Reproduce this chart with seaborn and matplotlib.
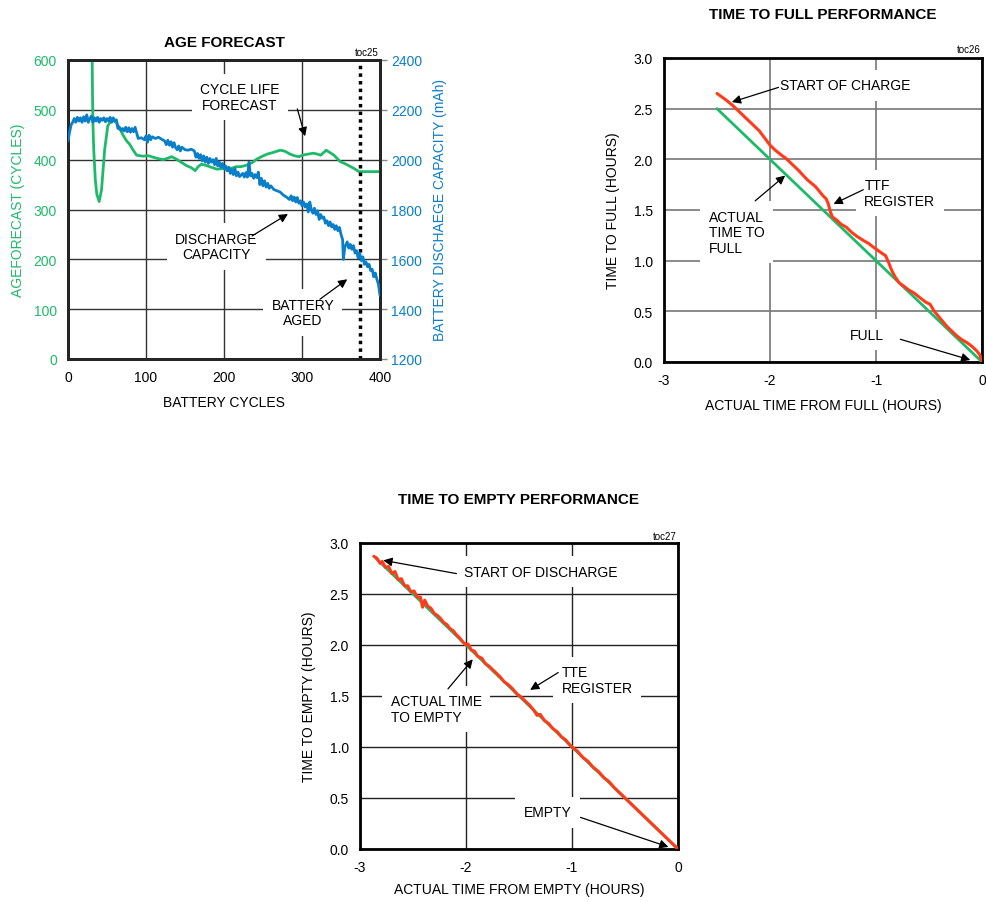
import matplotlib
matplotlib.use("Agg")
import matplotlib.pyplot as plt
import seaborn as sns

# ─── DATA ─────────────────────────────
# age forecast (green, left axis) vs battery cycles
age_cycles = [31, 31.5, 32, 33, 35, 37, 40, 43, 47, 51, 56, 62, 67, 71, 75, 79, 84, 88, 96, 103, 109,
              116, 122, 128, 133, 139, 144, 152, 158, 163, 167, 171, 178, 185, 191, 198, 204, 210,
              216, 222, 229, 236, 242, 248, 255, 262, 272, 278, 285, 290, 296, 301, 307, 315, 320,
              324, 331, 336, 341, 349, 355, 360, 367, 373, 380, 390, 400]
age_forecast = [600, 520, 470, 420, 360, 330, 316, 340, 420, 468, 480, 475, 460, 448, 438, 431, 418, 409,
                407, 408, 405, 402, 400, 403, 406, 401, 396, 388, 384, 378, 386, 391, 388, 384, 381,
                382, 381, 383, 386, 386, 389, 394, 401, 406, 411, 414, 419, 417, 411, 408, 406, 409,
                411, 413, 411, 409, 419, 414, 409, 396, 392, 388, 382, 376, 376, 376, 376]

# discharge capacity (blue, right axis)
cap_cycles = [0, 2, 4, 6, 8, 10, 12, 14, 16, 18, 20, 22, 24, 26, 28, 30, 32, 34, 36, 38, 40, 42, 44,
              46, 48, 50, 52, 54, 56, 58, 60, 62, 64, 66, 68, 70, 72, 74, 76, 78, 80, 82, 84, 86, 88,
              90, 94, 98, 100, 102, 104, 106, 108, 112, 116, 120, 124, 126, 128, 130, 132, 134, 136,
              138, 140, 142, 144, 146, 150, 154, 158, 162, 164, 166, 168, 170, 172, 174, 176, 178,
              180, 182, 184, 186, 188, 190, 192, 194, 196, 198, 200, 202, 204, 206, 208, 210, 212,
              214, 216, 218, 220, 224, 226, 228, 230, 232, 234, 236, 238, 240, 242, 244, 246, 248,
              250, 252, 254, 256, 258, 260, 264, 268, 272, 276, 280, 284, 286, 288, 290, 292, 294,
              296, 298, 300, 302, 304, 306, 308, 310, 312, 314, 316, 318, 320, 322, 324, 326, 328,
              330, 332, 334, 336, 338, 340, 342, 344, 346, 348, 350, 352, 353, 355, 358, 360, 362,
              364, 366, 368, 370, 372, 374, 376, 378, 380, 382, 384, 386, 388, 390, 392, 394, 396,
              398, 400]
capacity = [2075, 2110, 2140, 2150, 2165, 2150, 2170, 2155, 2168, 2150, 2172, 2155, 2180, 2150, 2165,
            2175, 2150, 2168, 2155, 2170, 2150, 2165, 2158, 2168, 2152, 2165, 2155, 2170, 2150, 2168,
            2155, 2160, 2125, 2130, 2118, 2125, 2115, 2130, 2112, 2128, 2110, 2125, 2112, 2130, 2108,
            2085, 2088, 2080, 2095, 2070, 2098, 2080, 2092, 2085, 2090, 2082, 2075, 2060, 2078, 2058,
            2072, 2050, 2068, 2048, 2040, 2055, 2035, 2050, 2040, 2038, 2042, 2035, 2010, 2025, 2005,
            2020, 1995, 2015, 1990, 2010, 1985, 2005, 1990, 2000, 1980, 2005, 1975, 1990, 1970, 1985,
            1965, 1975, 1955, 1970, 1945, 1960, 1940, 1965, 1935, 1950, 1932, 1945, 1930, 1948, 1930,
            1990, 1935, 1945, 1925, 1940, 1928, 1950, 1900, 1925, 1895, 1915, 1890, 1905, 1885, 1895,
            1880, 1875, 1870, 1858, 1850, 1840, 1855, 1835, 1850, 1830, 1848, 1825, 1835, 1815, 1830,
            1810, 1822, 1790, 1830, 1800, 1785, 1805, 1780, 1795, 1760, 1780, 1765, 1770, 1745, 1755,
            1735, 1750, 1730, 1740, 1720, 1735, 1715, 1728, 1700, 1680, 1600, 1650, 1670, 1645, 1660,
            1640, 1655, 1625, 1635, 1605, 1625, 1595, 1610, 1580, 1590, 1570, 1580, 1555, 1560, 1530,
            1545, 1520, 1500, 1455]
aged_cycle = 375

# time to full
ttf_actual_x = [-2.5, 0.0]
ttf_actual_y = [2.5, 0.0]
ttf_reg_x = [-2.50, -2.42, -2.35, -2.27, -2.19, -2.10, -2.00, -1.95, -1.89, -1.85, -1.81, -1.73,
             -1.65, -1.57, -1.50, -1.47, -1.45, -1.43, -1.41, -1.37, -1.33, -1.28, -1.23, -1.18,
             -1.12, -1.07, -1.02, -0.98, -0.94, -0.91, -0.88, -0.85, -0.82, -0.78, -0.74, -0.69,
             -0.64, -0.58, -0.53, -0.49, -0.45, -0.41, -0.37, -0.33, -0.28, -0.24, -0.19, -0.14,
             -0.09, -0.05, -0.02, 0.0]
ttf_reg_y = [2.65, 2.59, 2.53, 2.45, 2.37, 2.28, 2.14, 2.09, 2.04, 2.01, 1.97, 1.89, 1.80, 1.73,
             1.64, 1.61, 1.56, 1.48, 1.43, 1.40, 1.36, 1.33, 1.28, 1.24, 1.20, 1.17, 1.13, 1.10,
             1.07, 1.05, 0.98, 0.90, 0.84, 0.78, 0.75, 0.71, 0.68, 0.63, 0.59, 0.57, 0.50, 0.45,
             0.40, 0.35, 0.30, 0.26, 0.22, 0.19, 0.15, 0.11, 0.07, 0.0]

# time to empty
tte_actual_x = [-2.85, 0.0]
tte_actual_y = [2.85, 0.0]
tte_reg_x = [-2.87, -2.84, -2.81, -2.79, -2.76, -2.73, -2.70, -2.67, -2.64, -2.61, -2.58, -2.55,
             -2.52, -2.49, -2.46, -2.43, -2.41, -2.39, -2.36, -2.33, -2.30, -2.27, -2.24, -2.21,
             -2.18, -2.15, -2.12, -2.09, -2.06, -2.03, -2.00, -1.98, -1.95, -1.92, -1.89, -1.85,
             -1.82, -1.78, -1.75, -1.71, -1.68, -1.64, -1.60, -1.56, -1.52, -1.48, -1.44, -1.40,
             -1.36, -1.33, -1.30, -1.26, -1.22, -1.18, -1.14, -1.10, -1.06, -1.02, -1.00, -0.95,
             -0.90, -0.85, -0.80, -0.75, -0.70, -0.65, -0.60, -0.55, -0.50, -0.45, -0.40, -0.35,
             -0.30, -0.25, -0.20, -0.15, -0.10, -0.05, 0.0]
tte_reg_y = [2.87, 2.85, 2.80, 2.82, 2.76, 2.77, 2.70, 2.72, 2.64, 2.65, 2.58, 2.58, 2.52, 2.53,
             2.47, 2.47, 2.37, 2.44, 2.38, 2.36, 2.31, 2.29, 2.26, 2.22, 2.20, 2.16, 2.14, 2.10,
             2.07, 2.03, 2.00, 2.01, 1.95, 1.94, 1.89, 1.87, 1.82, 1.79, 1.76, 1.72, 1.69, 1.64,
             1.61, 1.57, 1.52, 1.49, 1.45, 1.41, 1.36, 1.31, 1.32, 1.26, 1.23, 1.18, 1.15, 1.10,
             1.07, 1.02, 1.00, 0.96, 0.90, 0.86, 0.80, 0.76, 0.70, 0.66, 0.60, 0.55, 0.50, 0.45,
             0.40, 0.35, 0.30, 0.25, 0.20, 0.15, 0.10, 0.05, 0.0]

GREEN = "#1dba6a"
BLUE = "#0a7fc9"
RED = "#ff3b1a"

sns.set_style("white")
plt.rcParams["font.family"] = ["Liberation Sans Narrow", "Liberation Sans", "DejaVu Sans"]
plt.rcParams["font.size"] = 10
plt.rcParams["text.color"] = "black"
plt.rcParams["axes.labelcolor"] = "black"
plt.rcParams["xtick.color"] = "black"
plt.rcParams["ytick.color"] = "black"

fig = plt.figure(figsize=(9.86, 9.03), dpi=100)
W, H = 986.0, 903.0


def make_ax(l, t, r, b):
    return fig.add_axes([l / W, 1 - b / H, (r - l) / W, (b - t) / H])


def frame(ax):
    for s in ax.spines.values():
        s.set_visible(True)
        s.set_linewidth(2)
        s.set_color("black")
    ax.set_axisbelow(True)


box = dict(boxstyle="square,pad=0.6", fc="white", ec="none")
arrow = dict(arrowstyle="-|>", color="black", lw=0.9, mutation_scale=13, shrinkA=0, shrinkB=0)


def note(ax, text, pos, tail, tip, ha="center"):
    # label in a white box that cuts the grid, arrow drawn separately
    ax.text(pos[0], pos[1], text, ha=ha, va="center", fontsize=10,
            linespacing=1.15, bbox=box, zorder=3)
    ax.annotate("", xy=tip, xytext=tail, arrowprops=arrow, zorder=6)


# ─── 1. AGE FORECAST ─────────────────────────────
ax1 = make_ax(68, 61, 380, 360)
frame(ax1)
ax1.grid(True, color="#333333", lw=1)
sns.lineplot(x=age_cycles, y=age_forecast, ax=ax1, color=GREEN, lw=2, sort=False, zorder=4)
ax1.axvline(aged_cycle, color="black", lw=2.5, ls=(0, (1, 1.2)), zorder=5)
ax1.set_xlim(0, 400)
ax1.set_ylim(0, 600)
ax1.set_xticks(range(0, 401, 100))
ax1.set_yticks(range(0, 601, 100))
ax1.tick_params(length=0, pad=8, labelsize=10)
for t in ax1.get_yticklabels():
    t.set_color(GREEN)
ax1.set_xlabel("BATTERY CYCLES", fontsize=10, labelpad=8)
ax1.set_ylabel("AGEFORECAST (CYCLES)", fontsize=10, color=GREEN, labelpad=6)
note(ax1, "CYCLE LIFE\nFORECAST", (220, 526), tail=(294, 502), tip=(304, 447))
note(ax1, "DISCHARGE\nCAPACITY", (190, 226), tail=(236, 247), tip=(282, 291))
note(ax1, "BATTERY\nAGED", (301, 93), tail=(323, 120), tip=(358, 160))

ax1b = ax1.twinx()
sns.lineplot(x=cap_cycles, y=capacity, ax=ax1b, color=BLUE, lw=2, sort=False, zorder=4)
ax1b.set_ylim(1200, 2400)
ax1b.set_yticks(range(1200, 2401, 200))
ax1b.tick_params(axis="y", length=5, width=1, color="#888888", pad=3, labelsize=10, labelcolor=BLUE)
ax1b.set_ylabel("BATTERY DISCHAEGE CAPACITY (mAh)", fontsize=10, color=BLUE, labelpad=8)
ax1b.grid(False)
for s in ax1b.spines.values():
    s.set_linewidth(2)
fig.text(224 / W, 1 - 43 / H, "AGE FORECAST", ha="center", va="center", fontsize=11, fontweight="bold")
fig.text(379 / W, 1 - 53 / H, "toc25", ha="right", va="center", fontsize=7)

# ─── 2. TIME TO FULL ─────────────────────────────
ax2 = make_ax(664, 59, 982, 363)
frame(ax2)
ax2.grid(True, color="#777777", lw=1.2)
sns.lineplot(x=ttf_actual_x, y=ttf_actual_y, ax=ax2, color=GREEN, lw=2, sort=False, zorder=4)
sns.lineplot(x=ttf_reg_x, y=ttf_reg_y, ax=ax2, color=RED, lw=2.2, sort=False, zorder=5)
ax2.set_xlim(-3, 0)
ax2.set_ylim(0, 3)
ax2.set_xticks([-3, -2, -1, 0])
ax2.set_xticklabels(["-3", "-2", "-1", "0"])
ax2.set_yticks([0, 0.5, 1, 1.5, 2, 2.5, 3])
ax2.set_yticklabels(["0.0", "0.5", "1.0", "1.5", "2.0", "2.5", "3.0"])
ax2.tick_params(length=0, pad=8, labelsize=10)
ax2.set_xlabel("ACTUAL TIME FROM FULL (HOURS)", fontsize=10, labelpad=8)
ax2.set_ylabel("TIME TO FULL (HOURS)", fontsize=10, labelpad=10)
note(ax2, "START OF CHARGE", (-1.91, 2.73), tail=(-1.92, 2.71), tip=(-2.36, 2.565), ha="left")
note(ax2, "TTF\nREGISTER", (-1.11, 1.67), tail=(-1.12, 1.70), tip=(-1.40, 1.56), ha="left")
note(ax2, "ACTUAL\nTIME TO\nFULL", (-2.58, 1.28), tail=(-2.14, 1.59), tip=(-1.857, 1.84), ha="left")
note(ax2, "FULL", (-1.09, 0.27), tail=(-0.77, 0.224), tip=(-0.11, 0.02))
fig.text(823 / W, 1 - 15 / H, "TIME TO FULL PERFORMANCE", ha="center", va="center",
         fontsize=11, fontweight="bold")
fig.text(981 / W, 1 - 50 / H, "toc26", ha="right", va="center", fontsize=7)

# ─── 3. TIME TO EMPTY ─────────────────────────────
ax3 = make_ax(360, 544, 678, 850)
frame(ax3)
ax3.grid(True, color="#222222", lw=1)
sns.lineplot(x=tte_actual_x, y=tte_actual_y, ax=ax3, color=GREEN, lw=2, sort=False, zorder=4)
sns.lineplot(x=tte_reg_x, y=tte_reg_y, ax=ax3, color=RED, lw=2.2, sort=False, zorder=5)
ax3.set_xlim(-3, 0)
ax3.set_ylim(0, 3)
ax3.set_xticks([-3, -2, -1, 0])
ax3.set_xticklabels(["-3", "-2", "-1", "0"])
ax3.set_yticks([0, 0.5, 1, 1.5, 2, 2.5, 3])
ax3.set_yticklabels(["0.0", "0.5", "1.0", "1.5", "2.0", "2.5", "3.0"])
ax3.tick_params(length=0, pad=8, labelsize=10)
ax3.set_xlabel("ACTUAL TIME FROM EMPTY (HOURS)", fontsize=10, labelpad=6)
ax3.set_ylabel("TIME TO EMPTY (HOURS)", fontsize=10, labelpad=10)
note(ax3, "START OF DISCHARGE", (-2.02, 2.72), tail=(-2.09, 2.70), tip=(-2.78, 2.83), ha="left")
note(ax3, "TTE\nREGISTER", (-1.10, 1.66), tail=(-1.13, 1.73), tip=(-1.395, 1.56), ha="left")
note(ax3, "ACTUAL TIME\nTO EMPTY", (-2.71, 1.37), tail=(-2.17, 1.57), tip=(-1.936, 1.86), ha="left")
note(ax3, "EMPTY", (-1.23, 0.36), tail=(-0.92, 0.31), tip=(-0.09, 0.02))
fig.text(519 / W, 1 - 500 / H, "TIME TO EMPTY PERFORMANCE", ha="center", va="center",
         fontsize=11, fontweight="bold")
fig.text(677 / W, 1 - 537 / H, "toc27", ha="right", va="center", fontsize=7)

fig.savefig("out.png", dpi=100, facecolor="white")
